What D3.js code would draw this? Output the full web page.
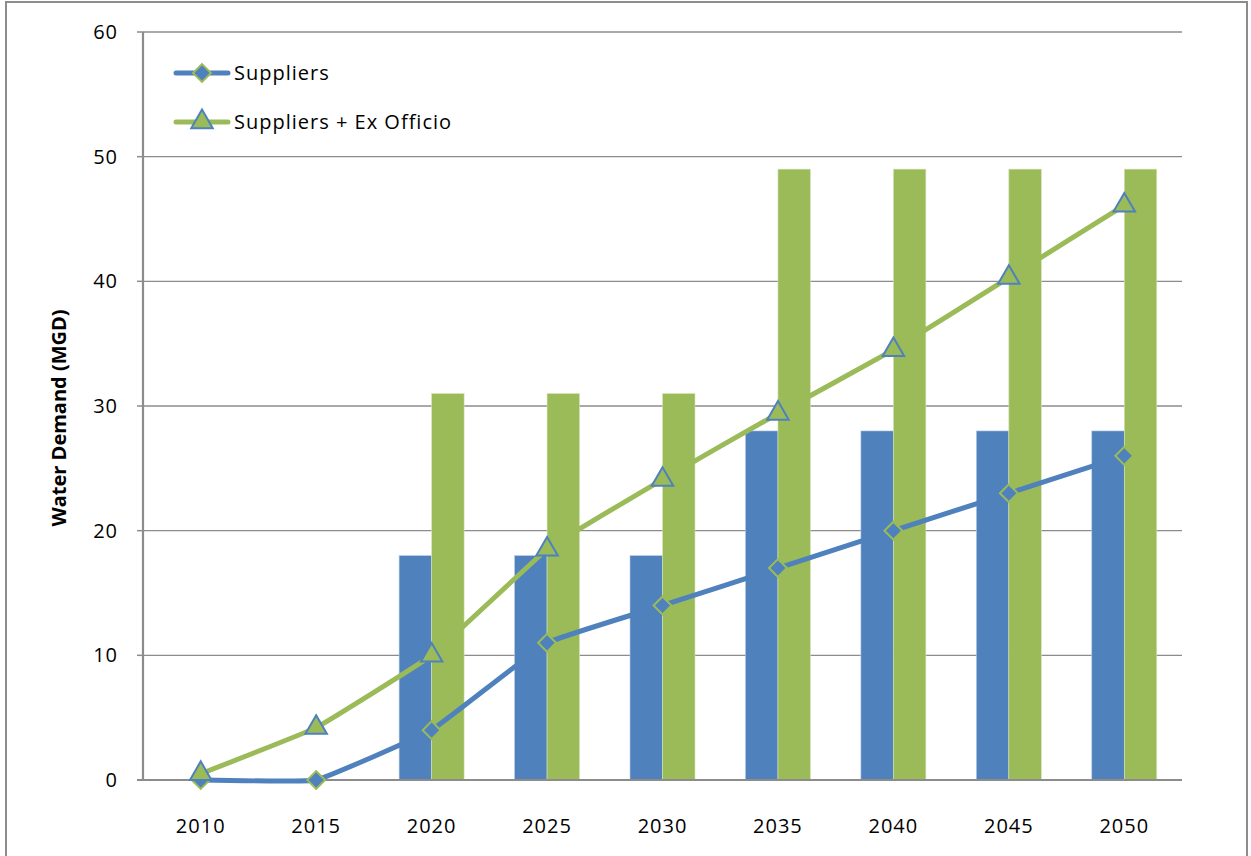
<!DOCTYPE html>
<html>
<head>
<meta charset="utf-8">
<script src="https://cdn.jsdelivr.net/npm/d3@7"></script>
<style>
  body { margin: 0; background: #fff; }
  text { font-family: "Open Sans", sans-serif; fill: #000; letter-spacing: 1px; }
</style>
</head>
<body>
<svg id="chart" width="1251" height="856"></svg>
<script>
var years = ["2010","2015","2020","2025","2030","2035","2040","2045","2050"];
var barBlue  = [0, 0, 18, 18, 18, 28, 28, 28, 28];
var barGreen = [0, 0, 31, 31, 31, 49, 49, 49, 49];
var suppliers = [0, 0, 4, 11, 14, 17, 20, 23, 26];
var suppliersExOfficio = [0.5, 4.2, 10, 18.5, 24.1, 29.4, 34.5, 40.3, 46.1];
var yTicks = [0, 10, 20, 30, 40, 50, 60];

var blue = "#4f81bd", green = "#9bbb59";

var svg = d3.select("#chart");
var margin = {left: 143, right: 69, top: 32, bottom: 76};
var W = 1251, H = 856;

// outer frame
svg.append("rect").attr("x", 6).attr("y", 2).attr("width", 1241).attr("height", 880)
  .attr("fill", "none").attr("stroke", "#8c8c8c").attr("stroke-width", 2);

var x = d3.scaleBand().domain(years).range([margin.left, W - margin.right]);
var y = d3.scaleLinear().domain([0, 60]).range([H - margin.bottom, margin.top]);

//grid lines
svg.append("g").selectAll("line").data(yTicks.slice(1)).join("line")
  .attr("x1", margin.left).attr("x2", W - margin.right)
  .attr("y1", function(d){ return y(d); }).attr("y2", function(d){ return y(d); })
  .attr("stroke", "#8c8c8c").attr("stroke-width", 1.3);

// bars
var bw = 32.5;
var bars = svg.append("g");
years.forEach(function(yr, i){
  var cx = x(yr) + x.bandwidth() / 2;
  if (barBlue[i] > 0) {
    bars.append("rect").attr("x", cx - bw).attr("width", bw)
      .attr("y", y(barBlue[i])).attr("height", y(0) - y(barBlue[i]))
      .attr("fill", blue).attr("stroke", "#b8cce4").attr("stroke-width", 0.6);
  }
  if (barGreen[i] > 0) {
    bars.append("rect").attr("x", cx).attr("width", bw)
      .attr("y", y(barGreen[i])).attr("height", y(0) - y(barGreen[i]))
      .attr("fill", green).attr("stroke", "#d7e4bd").attr("stroke-width", 0.6);
  }
});

// axes
svg.append("line").attr("x1", margin.left).attr("x2", margin.left)
  .attr("y1", margin.top).attr("y2", y(0)).attr("stroke", "#8c8c8c").attr("stroke-width", 2.2);
svg.append("line").attr("x1", margin.left - 6).attr("x2", W - margin.right)
  .attr("y1", y(0)).attr("y2", y(0)).attr("stroke", "#8c8c8c").attr("stroke-width", 2.2);
svg.append("g").selectAll("line").data(yTicks).join("line")
  .attr("x1", margin.left - 6).attr("x2", margin.left)
  .attr("y1", function(d){ return y(d); }).attr("y2", function(d){ return y(d); })
  .attr("stroke", "#8c8c8c").attr("stroke-width", 1.5);

svg.append("g").selectAll("text").data(yTicks).join("text")
  .attr("x", 118).attr("y", function(d){ return y(d); }).attr("dy", "0.35em")
  .attr("text-anchor", "end").attr("font-size", 20).text(function(d){ return d; });

svg.append("g").selectAll("text").data(years).join("text")
  .attr("x", function(d){ return x(d) + x.bandwidth() / 2; }).attr("y", 833)
  .attr("text-anchor", "middle").attr("font-size", 20).text(function(d){ return d; });

svg.append("text").attr("transform", "translate(66,418) rotate(-90)")
  .attr("text-anchor", "middle").attr("font-size", 20).attr("font-weight", "bold")
  .style("letter-spacing", "0px")
  .text("Water Demand (MGD)");

// lines
var line = d3.line()
  .x(function(d, i){ return x(years[i]) + x.bandwidth() / 2; })
  .y(function(d){ return y(d); })
  .curve(d3.curveCardinal.tension(0.75));

var diamond = d3.symbol().type(d3.symbolSquare).size(160);
var triangle = d3.symbol().type(d3.symbolTriangle).size(200);

function drawSeries(vals, color, sym, fill, stroke) {
  svg.append("path").datum(vals).attr("d", line)
    .attr("fill", "none").attr("stroke", color).attr("stroke-width", 5);
  svg.append("g").selectAll("path").data(vals).join("path")
    .attr("d", sym)
    .attr("transform", function(d, i){
      var t = "translate(" + (x(years[i]) + x.bandwidth() / 2) + "," + y(d) + ")";
      return sym === diamond ? t + " rotate(45)" : t;
    })
    .attr("fill", fill).attr("stroke", stroke).attr("stroke-width", 2);
}
drawSeries(suppliers, blue, diamond, blue, green);
drawSeries(suppliersExOfficio, green, triangle, green, blue);

// legend
var legend = [
  {name: "Suppliers", color: blue, sym: diamond, fill: blue, stroke: green, rot: 45},
  {name: "Suppliers + Ex Officio", color: green, sym: triangle, fill: green, stroke: blue, rot: 0}
];
legend.forEach(function(l, i){
  var ly = 73 + i * 49;
  svg.append("line").attr("x1", 176).attr("x2", 228).attr("y1", ly).attr("y2", ly)
    .attr("stroke", l.color).attr("stroke-width", 5).attr("stroke-linecap", "round");
  svg.append("path").attr("d", l.sym)
    .attr("transform", "translate(202," + ly + ") rotate(" + l.rot + ")")
    .attr("fill", l.fill).attr("stroke", l.stroke).attr("stroke-width", 2);
  svg.append("text").attr("x", 234).attr("y", ly).attr("dy", "0.35em")
    .attr("font-size", 20).text(l.name);
});
</script>
</body>
</html>
